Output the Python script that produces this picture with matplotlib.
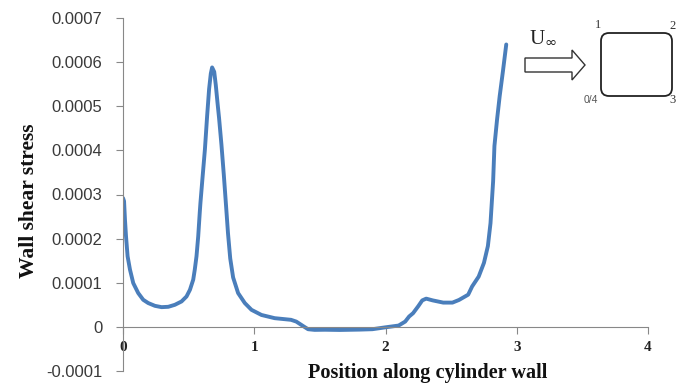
import matplotlib
matplotlib.use("Agg")
import matplotlib.pyplot as plt
from matplotlib.patches import FancyBboxPatch, FancyArrow

position = [0.0, 0.008, 0.015, 0.023, 0.035, 0.053, 0.078, 0.116, 0.154, 0.192,
            0.243, 0.294, 0.345, 0.395, 0.446, 0.484, 0.51, 0.535, 0.547, 0.56,
            0.573, 0.585, 0.59, 0.605, 0.624, 0.641, 0.656, 0.669, 0.679, 0.695,
            0.707, 0.72, 0.732, 0.75, 0.768, 0.785, 0.80, 0.817, 0.839, 0.877,
            0.928, 0.979, 1.055, 1.156, 1.28, 1.32, 1.37, 1.41, 1.46, 1.54,
            1.65, 1.80, 1.90, 2.0, 2.05, 2.1, 2.15, 2.18, 2.21, 2.25, 2.28,
            2.31, 2.36, 2.44, 2.51, 2.56, 2.63, 2.66, 2.71, 2.75, 2.78, 2.80,
            2.82, 2.83, 2.85, 2.87, 2.895, 2.92]
shear = [0.000292, 0.000285, 0.000243, 0.000205, 0.00016, 0.00013, 0.0000993,
         0.0000766, 0.0000614, 0.000054, 0.0000477, 0.0000447, 0.0000455,
         0.00005, 0.0000576, 0.0000689, 0.000084, 0.000107, 0.00013, 0.00016,
         0.000205, 0.00026, 0.000281, 0.000335, 0.000402, 0.000478, 0.000539,
         0.000574, 0.000588, 0.000578, 0.000548, 0.000508, 0.000473, 0.000413,
         0.000345, 0.000275, 0.000212, 0.000155, 0.000112, 0.0000766, 0.000054,
         0.0000386, 0.000027, 0.0000197, 0.000016, 0.000012, 0.0000023,
         -0.0000053, -0.0000068, -0.0000065, -0.000007, -0.0000062, -0.0000053,
         -0.000001, 0.000001, 0.000003, 0.000012, 0.0000235, 0.000031, 0.000047,
         0.00006, 0.000064, 0.00006, 0.000055, 0.000055, 0.000061, 0.000073,
         0.0000916, 0.000114, 0.000145, 0.000183, 0.000235, 0.00033, 0.00041,
         0.00047, 0.000523, 0.00058, 0.00064]
x_ticks = [0, 1, 2, 3, 4]
y_ticks = [-0.0001, 0, 0.0001, 0.0002, 0.0003, 0.0004, 0.0005, 0.0006, 0.0007]
y_tick_labels = ["-0.0001", "0", "0.0001", "0.0002", "0.0003", "0.0004",
                 "0.0005", "0.0006", "0.0007"]

W, H = 679, 390
fig = plt.figure(figsize=(W / 100, H / 100), dpi=100)
ax = fig.add_axes([123 / W, 1 - 371 / H, (648 - 123) / W, (371 - 18) / H])

ax.plot(position, shear, color="#4a7ebb", lw=2.8, solid_joinstyle="round",
        solid_capstyle="round")
ax.set_xlim(0, 4)
ax.set_ylim(-0.0001, 0.0007)

for s in ["top", "right"]:
    ax.spines[s].set_visible(False)
ax.spines["bottom"].set_position(("data", 0))
ax.spines["bottom"].set_color("#888888")
ax.spines["left"].set_color("#888888")

ax.set_yticks(y_ticks)
ax.set_yticklabels(y_tick_labels, fontfamily="Liberation Sans", fontsize=12,
                   color="#3a3a3a")
ax.set_xticks(x_ticks)
ax.set_xticklabels([str(t) for t in x_ticks], fontfamily="Liberation Serif",
                   fontweight="bold", fontsize=11, color="#222222")
ax.tick_params(axis="y", direction="out", length=5, color="#888888", pad=10)
ax.tick_params(axis="x", direction="out", length=5, color="#888888", pad=5)

fig.text(428 / W, 1 - 373 / H, "Position along cylinder wall",
         fontfamily="Liberation Serif", fontweight="bold", fontsize=14.6,
         ha="center", va="center", color="#111111")
fig.text(29 / W, 1 - 201 / H, "Wall shear stress",
         fontfamily="Liberation Serif", fontweight="bold", fontsize=15.5,
         ha="center", va="center", rotation=90, color="#111111")

# Inset diagram in pixel coordinates
ov = fig.add_axes([0, 0, 1, 1], facecolor="none")
ov.set_xlim(0, W)
ov.set_ylim(H, 0)
ov.axis("off")
ov.text(529, 38, "U$_\\infty$", fontfamily="Liberation Serif", fontsize=15,
        ha="left", va="center", color="#222222")
ov.add_patch(FancyArrow(525, 65, 47, 0, width=14, head_width=30,
                        head_length=13, length_includes_head=False,
                        facecolor="white", edgecolor="#333333", lw=1.0))
ov.add_patch(FancyBboxPatch((601, 33), 71, 63,
                            boxstyle="round,pad=0,rounding_size=8",
                            facecolor="white", edgecolor="#222222", lw=1.3))
ov.text(598, 25, "1", fontfamily="Liberation Serif", fontsize=9, ha="center",
        va="center", color="#333333")
ov.text(673, 26, "2", fontfamily="Liberation Serif", fontsize=9, ha="center",
        va="center", color="#333333")
ov.text(591, 100, "0/4", fontfamily="Liberation Sans", fontsize=7.5,
        ha="center", va="center", color="#555555")
ov.text(673, 100, "3", fontfamily="Liberation Serif", fontsize=9, ha="center",
        va="center", color="#333333")

fig.savefig("out.png", dpi=100)
